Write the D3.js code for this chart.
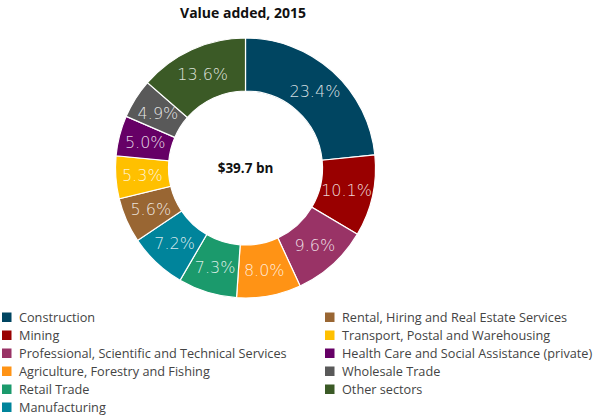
<!DOCTYPE html>
<html>
<head>
<meta charset="utf-8">
<script src="https://cdn.jsdelivr.net/npm/d3@7"></script>
<style>
  body { margin: 0; background: #fff; }
  svg { display: block; }
</style>
</head>
<body>
<svg id="chart" width="593" height="415"></svg>
<script>
// Sector shares of value added, 2015 (percent)
const sectors = [
  "Construction",
  "Mining",
  "Professional, Scientific and Technical Services",
  "Agriculture, Forestry and Fishing",
  "Retail Trade",
  "Manufacturing",
  "Rental, Hiring and Real Estate Services",
  "Transport, Postal and Warehousing",
  "Health Care and Social Assistance (private)",
  "Wholesale Trade",
  "Other sectors"
];
const shares = [23.4, 10.1, 9.6, 8.0, 7.3, 7.2, 5.6, 5.3, 5.0, 4.9, 13.6];
const colours = [
  "#004561", "#990000", "#993366", "#ff9315", "#1b9a6c", "#00849b",
  "#996633", "#ffc000", "#660066", "#595959", "#3b5a26"
];
const title = "Value added, 2015";
const total = "$39.7 bn";

const svg = d3.select("#chart");
const cx = 245.5, cy = 168, rOuter = 130, rInner = 77;

svg.append("text")
  .attr("x", 243).attr("y", 18)
  .attr("text-anchor", "middle")
  .attr("font-family", "Open Sans, sans-serif")
  .attr("font-weight", "bold")
  .attr("font-size", 14)
  .attr("fill", "#111")
  .text(title);

const data = sectors.map((s, i) => ({ sector: s, value: shares[i], colour: colours[i] }));
const pie = d3.pie().value(d => d.value).sort(null);
const arc = d3.arc().innerRadius(rInner).outerRadius(rOuter);

const g = svg.append("g").attr("transform", `translate(${cx},${cy})`);
const arcs = pie(data);

g.selectAll("path")
  .data(arcs)
  .join("path")
  .attr("d", arc)
  .attr("fill", d => d.data.colour)
  .attr("stroke", "#fff")
  .attr("stroke-width", 1.2);

g.selectAll("text.pct")
  .data(arcs)
  .join("text")
  .attr("class", "pct")
  .attr("transform", d => `translate(${arc.centroid(d)})`)
  .attr("text-anchor", "middle")
  .attr("dy", "0.36em")
  .attr("font-family", "DejaVu Sans, sans-serif")
  .attr("font-weight", 200)
  .attr("font-size", 16)
  .attr("fill", "#ffffff")
  .attr("fill-opacity", 0.85)
  .text(d => d.data.value.toFixed(1) + "%");

g.append("text")
  .attr("text-anchor", "middle")
  .attr("dy", "0.36em")
  .attr("font-family", "Open Sans, sans-serif")
  .attr("font-weight", "bold")
  .attr("font-size", 13.5)
  .attr("fill", "#111")
  .text(total);

// Legend: two columns of six and five entries
const legend = svg.append("g");
const rowH = 18, legendTop = 317;
data.forEach((d, i) => {
  const col = i < 6 ? 0 : 1;
  const row = i < 6 ? i : i - 6;
  const x = col === 0 ? 2 : 325;
  const y = legendTop + row * rowH;
  const item = legend.append("g").attr("transform", `translate(${x},${y})`);
  item.append("rect")
    .attr("x", 0).attr("y", -4.5)
    .attr("width", 9.5).attr("height", 9.5)
    .attr("fill", d.colour);
  item.append("text")
    .attr("x", 17).attr("dy", "0.36em")
    .attr("font-family", "Open Sans, sans-serif")
    .attr("font-size", 12.7)
    .attr("fill", "#444")
    .text(d.sector);
});
</script>
</body>
</html>
